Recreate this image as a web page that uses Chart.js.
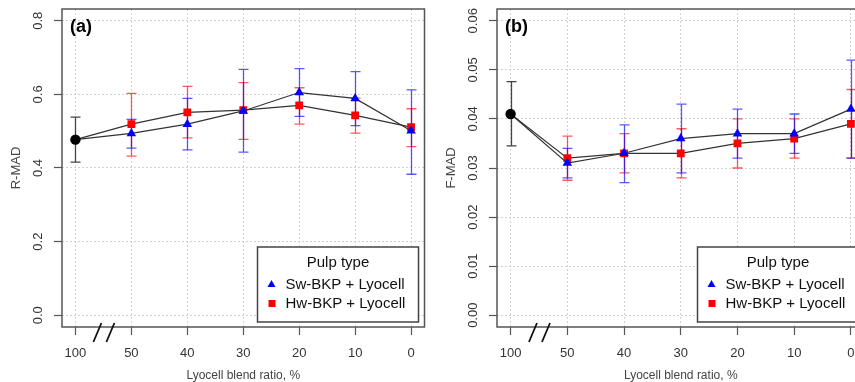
<!DOCTYPE html>
<html>
<head>
<meta charset="utf-8">
<script src="https://cdn.jsdelivr.net/npm/chart.js@4.4.1/dist/chart.umd.min.js"></script>
<style>
  html, body { margin: 0; padding: 0; background: #fff; overflow: hidden; }
  #wrap { position: relative; width: 855px; height: 382px; overflow: hidden; }
  #c1 { position: absolute; left: 0; top: 0; }
  #c2 { position: absolute; left: 430px; top: 0; }
</style>
</head>
<body>
<div id="wrap">
  <canvas id="c1" width="430" height="382"></canvas>
  <canvas id="c2" width="440" height="382"></canvas>
</div>
<script>
// x軸のカテゴリ（リヨセル配合率, %）
const ratioLabels = ['100', '50', '40', '30', '20', '10', '0'];

// (a) R-MAD
const rmadTicks = [0, 0.2, 0.4, 0.6, 0.8];
const rmadTickLabels = ['0.0', '0.2', '0.4', '0.6', '0.8'];
const rmadLyocell = [0.477];
const rmadLyocellLow = [0.416];
const rmadLyocellHigh = [0.538];
const rmadSw = [0.477, 0.494, 0.519, 0.555, 0.605, 0.589, 0.501];
const rmadSwLow = [null, 0.454, 0.449, 0.443, 0.540, 0.515, 0.383];
const rmadSwHigh = [null, 0.532, 0.589, 0.668, 0.670, 0.662, 0.612];
const rmadHw = [0.477, 0.519, 0.551, 0.557, 0.570, 0.543, 0.511];
const rmadHwLow = [null, 0.432, 0.482, 0.478, 0.519, 0.495, 0.458];
const rmadHwHigh = [null, 0.603, 0.622, 0.632, 0.618, 0.590, 0.561];

// (b) F-MAD
const fmadTicks = [0, 0.01, 0.02, 0.03, 0.04, 0.05, 0.06];
const fmadTickLabels = ['0.00', '0.01', '0.02', '0.03', '0.04', '0.05', '0.06'];
const fmadLyocell = [0.041];
const fmadLyocellLow = [0.0345];
const fmadLyocellHigh = [0.0476];
const fmadSw = [0.041, 0.031, 0.033, 0.036, 0.037, 0.037, 0.042];
const fmadSwLow = [null, 0.028, 0.027, 0.029, 0.032, 0.033, 0.032];
const fmadSwHigh = [null, 0.034, 0.0388, 0.043, 0.042, 0.041, 0.052];
const fmadHw = [0.041, 0.032, 0.033, 0.033, 0.035, 0.036, 0.039];
const fmadHwLow = [null, 0.0275, 0.029, 0.028, 0.030, 0.032, 0.032];
const fmadHwHigh = [null, 0.0365, 0.037, 0.038, 0.040, 0.040, 0.046];

const FONT = "'Liberation Sans', Arial, sans-serif";
const BLUE = '#0000ff';
const RED = '#ff0000';

function toPoints(values) {
    return values.map((v, i) => ({ x: i, y: v }));
}

/**
 * エラーバーを描くプラグイン
 */
const errorBarPlugin = {
    id: 'errorBars',
    beforeDatasetsDraw(chart, args, opts) {
        const ctx = chart.ctx;
        const xs = chart.scales.x;
        const ys = chart.scales.y;
        ctx.save();
        ctx.lineWidth = 1.3;
        opts.bars.forEach(bar => {
            ctx.strokeStyle = bar.color;
            bar.low.forEach((lo, i) => {
                const hi = bar.high[i];
                if (lo == null || hi == null) return;
                const px = Math.round(xs.getPixelForValue(i)) + 0.5;
                const y1 = ys.getPixelForValue(lo);
                const y2 = ys.getPixelForValue(hi);
                ctx.beginPath();
                ctx.moveTo(px, y1);
                ctx.lineTo(px, y2);
                ctx.moveTo(px - 5, y1);
                ctx.lineTo(px + 5, y1);
                ctx.moveTo(px - 5, y2);
                ctx.lineTo(px + 5, y2);
                ctx.stroke();
            });
        });
        ctx.restore();
    }
};

/**
 * 枠・軸ラベル・凡例などを描くプラグイン
 */
const framePlugin = {
    id: 'frame',
    afterDraw(chart, args, opts) {
        const ctx = chart.ctx;
        const area = chart.chartArea;
        const xs = chart.scales.x;
        const ys = chart.scales.y;
        ctx.save();

        // 枠
        ctx.strokeStyle = '#555';
        ctx.lineWidth = 1.5;
        ctx.strokeRect(area.left, area.top, area.right - area.left, area.bottom - area.top);

        // 軸の省略記号 //
        const bx = (xs.getPixelForValue(0) + xs.getPixelForValue(1)) / 2;
        ctx.strokeStyle = '#111';
        ctx.lineWidth = 1.8;
        ctx.beginPath();
        ctx.moveTo(bx - 10, area.bottom + 15);
        ctx.lineTo(bx - 2, area.bottom - 4);
        ctx.moveTo(bx + 3, area.bottom + 15);
        ctx.lineTo(bx + 11, area.bottom - 4);
        ctx.stroke();

        // x目盛りラベル
        ctx.fillStyle = '#333';
        ctx.font = '13px ' + FONT;
        ctx.textAlign = 'center';
        ctx.textBaseline = 'middle';
        ratioLabels.forEach((label, i) => {
            ctx.fillText(label, xs.getPixelForValue(i), area.bottom + 26);
        });

        // y目盛りラベル（縦書き）
        opts.yTicks.forEach((v, i) => {
            ctx.save();
            ctx.translate(area.left - 24, ys.getPixelForValue(v));
            ctx.rotate(-Math.PI / 2);
            ctx.fillText(opts.yTickLabels[i], 0, 0);
            ctx.restore();
        });

        // 軸タイトル
        ctx.font = '12px ' + FONT;
        ctx.fillStyle = '#444';
        ctx.fillText('Lyocell blend ratio, %', (area.left + area.right) / 2, area.bottom + 49);
        ctx.save();
        ctx.font = '13px ' + FONT;
        ctx.translate(area.left - 46, (area.top + area.bottom) / 2);
        ctx.rotate(-Math.PI / 2);
        ctx.fillText(opts.yTitle, 0, 0);
        ctx.restore();

        // パネル記号
        ctx.fillStyle = '#000';
        ctx.font = 'bold 18px ' + FONT;
        ctx.textAlign = 'left';
        ctx.fillText(opts.panel, area.left + 8, area.top + 18);

        // 凡例
        const lw = 161, lh = 75;
        const lx = area.right - 6 - lw;
        const ly = area.bottom - 5 - lh;
        ctx.fillStyle = '#fff';
        ctx.fillRect(lx, ly, lw, lh);
        ctx.strokeStyle = '#444';
        ctx.lineWidth = 1.5;
        ctx.strokeRect(lx, ly, lw, lh);
        ctx.fillStyle = '#111';
        ctx.font = '15px ' + FONT;
        ctx.textAlign = 'center';
        ctx.fillText('Pulp type', lx + lw / 2, ly + 16);
        ctx.textAlign = 'left';
        ctx.fillText('Sw-BKP + Lyocell', lx + 28, ly + 38);
        ctx.fillText('Hw-BKP + Lyocell', lx + 28, ly + 57);
        // 凡例マーカー
        ctx.fillStyle = BLUE;
        ctx.beginPath();
        ctx.moveTo(lx + 14, ly + 33);
        ctx.lineTo(lx + 18, ly + 40);
        ctx.lineTo(lx + 10, ly + 40);
        ctx.closePath();
        ctx.fill();
        ctx.fillStyle = RED;
        ctx.fillRect(lx + 11, ly + 53, 7, 7);

        ctx.restore();
    }
};

/**
 * パネル作成
 */
function createPanel(canvasId, cfg) {
    const ctx = document.getElementById(canvasId).getContext('2d');
    const markerRadius = (r) => ratioLabels.map((_, i) => (i === 0 ? 0 : r));
    new Chart(ctx, {
        type: 'line',
        data: {
            datasets: [
                {
                    label: 'Lyocell',
                    data: toPoints(cfg.lyocell),
                    showLine: false,
                    pointStyle: 'circle',
                    pointRadius: 5.2,
                    backgroundColor: '#000',
                    borderColor: '#000',
                    borderWidth: 0,
                    order: 0
                },
                {
                    label: 'Sw-BKP + Lyocell',
                    data: toPoints(cfg.sw),
                    borderColor: '#333',
                    borderWidth: 1.2,
                    pointStyle: 'triangle',
                    pointRadius: markerRadius(5.5),
                    pointBackgroundColor: BLUE,
                    pointBorderColor: BLUE,
                    pointBorderWidth: 0,
                    order: 1
                },
                {
                    label: 'Hw-BKP + Lyocell',
                    data: toPoints(cfg.hw),
                    borderColor: '#333',
                    borderWidth: 1.2,
                    pointStyle: 'rect',
                    pointRadius: markerRadius(5.5),
                    pointBackgroundColor: RED,
                    pointBorderColor: RED,
                    pointBorderWidth: 0,
                    order: 2
                }
            ]
        },
        options: {
            responsive: false,
            animation: false,
            layout: { padding: { top: 9, right: cfg.padRight, left: 0, bottom: 0 } },
            plugins: {
                legend: { display: false },
                tooltip: { enabled: false },
                errorBars: {
                    bars: [
                        { low: cfg.hwLow, high: cfg.hwHigh, color: 'rgba(255,0,0,0.65)' },
                        { low: cfg.swLow, high: cfg.swHigh, color: 'rgba(0,0,255,0.65)' },
                        { low: cfg.lyocellLow, high: cfg.lyocellHigh, color: '#444' }
                    ]
                },
                frame: {
                    yTicks: cfg.yTicks,
                    yTickLabels: cfg.yTickLabels,
                    yTitle: cfg.yTitle,
                    panel: cfg.panel
                }
            },
            scales: {
                x: {
                    type: 'linear',
                    min: -0.24,
                    max: 6.24,
                    afterBuildTicks: (s) => { s.ticks = ratioLabels.map((_, i) => ({ value: i })); },
                    afterFit: (s) => { s.height = 55; },
                    ticks: { display: false },
                    border: { display: false, dash: [2, 2] },
                    grid: { color: '#d2d2d2', lineWidth: 1, tickColor: '#555', tickLength: 8, tickBorderDash: [], tickWidth: 1.2 }
                },
                y: {
                    type: 'linear',
                    min: cfg.yMin,
                    max: cfg.yMax,
                    afterBuildTicks: (s) => { s.ticks = cfg.yTicks.map(v => ({ value: v })); },
                    afterFit: (s) => { s.width = cfg.yWidth; },
                    ticks: { display: false },
                    border: { display: false, dash: [2, 2] },
                    grid: { color: '#d2d2d2', lineWidth: 1, tickColor: '#555', tickLength: 8, tickBorderDash: [], tickWidth: 1.2 }
                }
            }
        },
        plugins: [errorBarPlugin, framePlugin]
    });
}

// メイン処理
createPanel('c1', {
    panel: '(a)', yTitle: 'R-MAD',
    yMin: -0.032, yMax: 0.832, yTicks: rmadTicks, yTickLabels: rmadTickLabels,
    yWidth: 62, padRight: 2,
    lyocell: rmadLyocell, lyocellLow: rmadLyocellLow, lyocellHigh: rmadLyocellHigh,
    sw: rmadSw, swLow: rmadSwLow, swHigh: rmadSwHigh,
    hw: rmadHw, hwLow: rmadHwLow, hwHigh: rmadHwHigh
});
createPanel('c2', {
    panel: '(b)', yTitle: 'F-MAD',
    yMin: -0.0024, yMax: 0.0624, yTicks: fmadTicks, yTickLabels: fmadTickLabels,
    yWidth: 67, padRight: 5,
    lyocell: fmadLyocell, lyocellLow: fmadLyocellLow, lyocellHigh: fmadLyocellHigh,
    sw: fmadSw, swLow: fmadSwLow, swHigh: fmadSwHigh,
    hw: fmadHw, hwLow: fmadHwLow, hwHigh: fmadHwHigh
});
</script>
</body>
</html>
